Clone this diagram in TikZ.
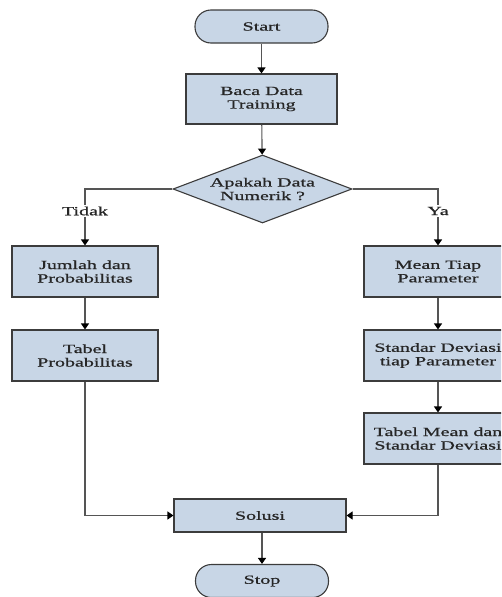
\documentclass[tikz,border=0pt]{standalone}
\usepackage{fontspec}
\newfontfamily\flowfont[FakeStretch=1.6,FakeBold=0.7]{Liberation Serif}
\usetikzlibrary{shapes.geometric,arrows.meta}
\definecolor{boxfill}{RGB}{200,214,230}
\definecolor{edgecol}{RGB}{60,60,60}
\definecolor{linecol}{RGB}{85,85,85}
\tikzset{
  txt/.style={font=\flowfont\fontsize{12.5}{13.5}\selectfont, align=center, text=black!85},
  procbox/.style={txt, draw=edgecol, fill=boxfill, line width=1.1pt, minimum width=146pt, minimum height=51pt, inner sep=0pt},
  termbox/.style={txt, draw=edgecol, fill=boxfill, line width=1.1pt, minimum width=133pt, minimum height=33pt, rounded corners=16pt, inner sep=0pt},
  decbox/.style={diamond, draw=edgecol, fill=boxfill, line width=1.1pt, minimum width=179pt, minimum height=68pt, inner sep=0pt},
  conn/.style={draw=linecol, line width=1.1pt, -{Triangle[length=6pt,width=8pt,color=black]}},
  lab/.style={txt, fill=white, inner sep=2pt}
}
\begin{document}
\begin{tikzpicture}[x=1pt,y=-1pt]
\useasboundingbox (0,0) rectangle (501,597);
\clip (0,0) rectangle (501,597);
\node[termbox] (start) at (261.5,26.5) {Start};
\node[procbox, minimum width=151pt, minimum height=50pt] (baca) at (261.5,99) {Baca Data\\Training};
\node[decbox] (dec) at (262.5,189) {};
\node[txt] (dectext) at (262.5,189) {Apakah Data\\Numerik ?};
\node[procbox] (jumlah) at (85,271.5) {Jumlah dan\\Probabilitas};
\node[procbox] (tabelp) at (85,355.5) {Tabel\\Probabilitas};
\node[procbox, minimum width=148pt] (mean) at (438,271.5) {Mean Tiap\\Parameter};
\node[procbox, minimum width=148pt] (std) at (438,355.5) {Standar Deviasi\\tiap Parameter};
\node[procbox, minimum width=148pt] (tabelm) at (438,438.5) {Tabel Mean dan\\Standar Deviasi};
\node[procbox, minimum width=172pt, minimum height=33pt] (solusi) at (260,515.5) {Solusi};
\node[termbox] (stop) at (262,581) {Stop};
\draw[conn] (start) -- (baca);
\draw[conn] (baca) -- (dec);
\draw[conn] (dec.west) -| (jumlah.north);
\draw[conn] (dec.east) -| (mean.north);
\node[lab] (tidak) at (85,211) {Tidak};
\node[lab] (ya) at (438,211) {Ya};
\draw[conn] (jumlah) -- (tabelp);
\draw[conn] (mean) -- (std);
\draw[conn] (std) -- (tabelm);
\draw[conn] (tabelp.south) |- (solusi.west);
\draw[conn] (tabelm.south) |- (solusi.east);
\draw[conn] (solusi.south -| stop.north) -- (stop.north);
\end{tikzpicture}
\end{document}
